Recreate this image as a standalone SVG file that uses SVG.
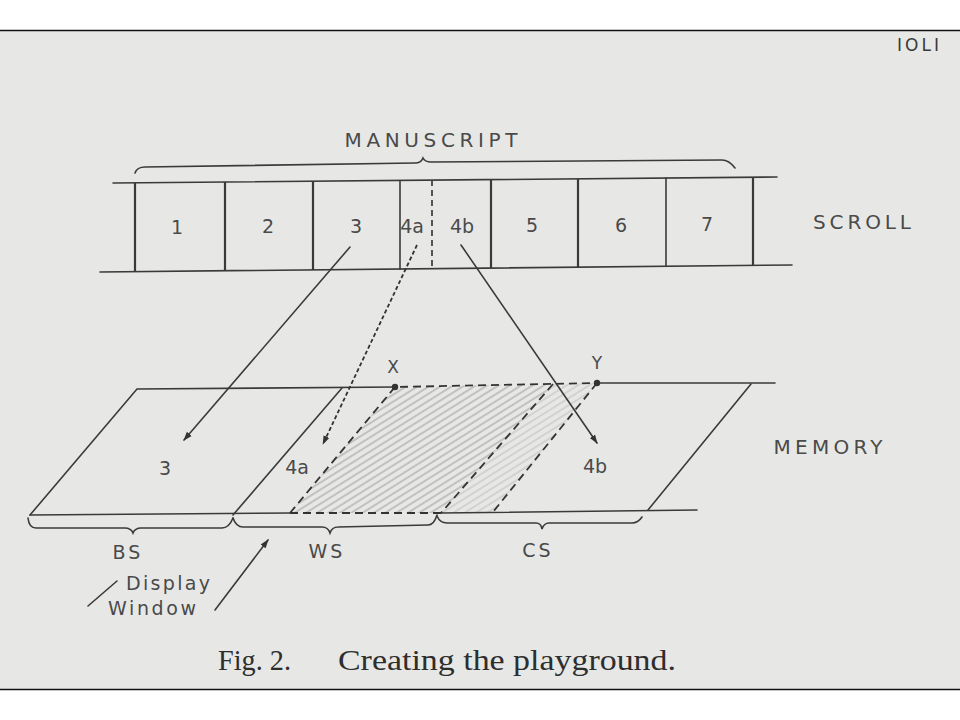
<svg xmlns="http://www.w3.org/2000/svg" width="960" height="720" viewBox="0 0 960 720">
<style>
.ln{fill:none;stroke:#3a3a3a;stroke-width:1.6;stroke-linecap:round}
.th{fill:none;stroke:#3a3a3a;stroke-width:2.2}
.ds{fill:none;stroke:#333;stroke-width:1.8;stroke-dasharray:8 5}
.lb{font-family:"DejaVu Sans",sans-serif;font-size:17px;fill:#4a4a4a;text-anchor:middle}
.big{font-size:20px}
.mid{font-size:19px}
.cap{font-family:"Liberation Serif",serif;font-size:30px;fill:#2e2e2e}
</style>
<defs>
<marker id="ah" viewBox="0 0 10 10" refX="9" refY="5" markerWidth="9" markerHeight="9" orient="auto" markerUnits="userSpaceOnUse">
<path d="M0,1.5 L10,5 L0,8.5 Z" fill="#333"/>
</marker>
<pattern id="h1" width="6" height="6" patternUnits="userSpaceOnUse" patternTransform="rotate(-32)">
<line x1="0" y1="3" x2="6" y2="3" stroke="#9a9a9a" stroke-width="1"/>
</pattern>
<pattern id="h2" width="6" height="6" patternUnits="userSpaceOnUse" patternTransform="rotate(-32)">
<line x1="0" y1="3" x2="6" y2="3" stroke="#b8b8b8" stroke-width="0.9"/>
</pattern>
</defs>
<rect x="0" y="0" width="960" height="720" fill="#ffffff"/>
<rect x="0" y="31" width="960" height="658" fill="#e7e8e6"/>
<line x1="0" y1="30.5" x2="960" y2="30.5" stroke="#111" stroke-width="1.5"/>
<line x1="0" y1="689.5" x2="960" y2="689.5" stroke="#111" stroke-width="1.5"/>
<text x="918" y="51" font-family="DejaVu Sans,sans-serif" font-size="17" fill="#3a3a3a" text-anchor="middle" textLength="42" lengthAdjust="spacing">IOLI</text>

<g id="manuscript">
<path class="ln" d="M135,173 Q137,167 145,167 L415,163 Q421,163 423,158 Q425,162 431,162 L722,160 Q729,160 735,168"/>
<text class="lb big" x="431" y="147" textLength="173" lengthAdjust="spacing">MANUSCRIPT</text>
</g>

<g id="scroll">
<line class="ln" x1="113" y1="183" x2="777" y2="177"/>
<line class="ln" x1="100" y1="272" x2="792" y2="265"/>
<line class="th" x1="135" y1="183" x2="135" y2="272"/>
<line class="th" x1="225" y1="182" x2="225" y2="271"/>
<line class="th" x1="313" y1="181" x2="313" y2="270"/>
<line class="ln" x1="400" y1="181" x2="400" y2="269"/>
<line x1="432" y1="180" x2="432" y2="269" stroke="#444" stroke-width="1.8" stroke-dasharray="6 4"/>
<line class="th" x1="491" y1="180" x2="491" y2="268"/>
<line class="th" x1="578" y1="179" x2="578" y2="267"/>
<line class="ln" x1="666" y1="178" x2="666" y2="266"/>
<line class="th" x1="753" y1="177" x2="753" y2="265"/>
<text class="lb mid" x="177" y="234">1</text>
<text class="lb mid" x="268" y="233">2</text>
<text class="lb mid" x="356" y="233">3</text>
<text class="lb mid" x="412" y="233">4a</text>
<text class="lb mid" x="462" y="233">4b</text>
<text class="lb mid" x="532" y="232">5</text>
<text class="lb mid" x="621" y="232">6</text>
<text class="lb mid" x="707" y="231">7</text>
<text class="lb big" x="862" y="229" textLength="98" lengthAdjust="spacing">SCROLL</text>
</g>

<g id="memory">
<polygon points="290,513 395,387 553,384 441,513" fill="url(#h1)"/>
<polygon points="441,513 553,384 597,383 493,512" fill="url(#h2)"/>
<path class="ln" d="M30,515 L137,389 L395,387"/>
<path class="ln" d="M597,383 L775,383"/>
<path class="ln" d="M30,515 L290,513"/>
<path class="ln" d="M441,513 L697,510"/>
<path class="ln" d="M751,384 L648,510"/>
<path class="ln" d="M233,515 L342,388"/>
<path class="ds" d="M290,513 L395,387 L597,383"/>
<path class="ds" d="M290,513 L441,513"/>
<path class="ds" d="M553,384 L441,513"/>
<path class="ds" d="M597,383 L493,512"/>
<circle cx="395" cy="387" r="3.2" fill="#333"/>
<circle cx="597" cy="383" r="3.2" fill="#333"/>
<text class="lb" x="393" y="373">X</text>
<text class="lb" x="597" y="369">Y</text>
<text class="lb mid" x="165" y="475">3</text>
<text class="lb mid" x="297" y="474">4a</text>
<text class="lb mid" x="595" y="473">4b</text>
<text class="lb big" x="828" y="454" textLength="109" lengthAdjust="spacing">MEMORY</text>
</g>

<g id="connectors">
<line class="ln" x1="350" y1="247" x2="184" y2="440" marker-end="url(#ah)"/>
<line x1="417" y1="245" x2="323" y2="444" stroke="#333" stroke-width="1.8" stroke-dasharray="4 2.5" marker-end="url(#ah)"/>
<line class="ln" x1="461" y1="245" x2="597" y2="443" marker-end="url(#ah)"/>
<line class="ln" x1="215" y1="610" x2="268" y2="540" marker-end="url(#ah)"/>
<line class="ln" x1="88" y1="606" x2="117" y2="581"/>
</g>

<g id="segments">
<path class="ln" d="M28,518 Q29,528 36,528 L125,528 Q131,528 133,533 Q135,528 141,528 L222,528 Q229,528 233,518"/>
<path class="ln" d="M233,518 Q236,527 243,527 L322,527 Q328,527 330,533 Q332,527 338,527 L428,525 Q434,525 437,515"/>
<path class="ln" d="M437,516 Q440,523 447,523 L536,523 Q541,523 542,529 Q544,523 549,523 L632,523 Q638,523 642,517"/>
<text class="lb mid" x="128" y="559" letter-spacing="3">BS</text>
<text class="lb mid" x="327" y="558" letter-spacing="3">WS</text>
<text class="lb mid" x="538" y="557" letter-spacing="3">CS</text>
<text class="lb mid" x="168" y="590" textLength="84" lengthAdjust="spacing">Display</text>
<text class="lb mid" x="152" y="615" textLength="88" lengthAdjust="spacing">Window</text>
</g>

<g id="caption">
<text class="cap" x="218" y="670" textLength="73" lengthAdjust="spacingAndGlyphs">Fig. 2.</text>
<text class="cap" x="338" y="670" textLength="338" lengthAdjust="spacingAndGlyphs">Creating the playground.</text>
</g>
</svg>
